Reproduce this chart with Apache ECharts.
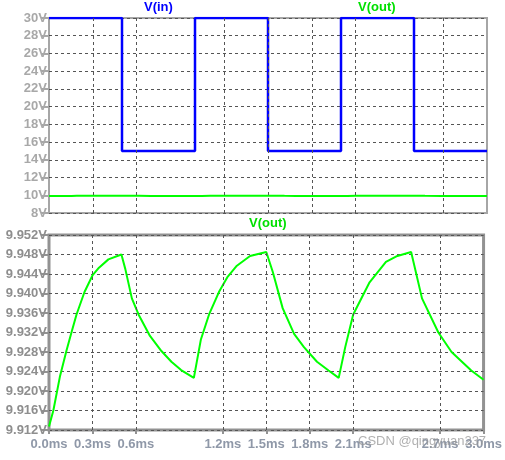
<!DOCTYPE html>
<html><head><meta charset="utf-8">
<script src="https://cdn.jsdelivr.net/npm/echarts@6/dist/echarts.min.js"></script>
<style>html,body{margin:0;padding:0;background:#fff}#c{width:505px;height:460px}</style>
</head><body><div id="c"></div>
<script>
const vinTimes = [0, 0.5, 0.5, 1.0, 1.0, 1.5, 1.5, 2.0, 2.0, 2.5, 2.5, 3.0];
const vinValues = [30, 30, 15, 15, 30, 30, 15, 15, 30, 30, 15, 15];
const voutTimes = [0, 0.03, 0.075, 0.12, 0.155, 0.19, 0.245, 0.30, 0.345, 0.41, 0.5,
  0.527, 0.572, 0.618, 0.697, 0.776, 0.845, 0.912, 1.0,
  1.048, 1.105, 1.173, 1.23, 1.297, 1.388, 1.5,
  1.545, 1.613, 1.692, 1.76, 1.85, 1.93, 2.0,
  2.045, 2.1, 2.213, 2.326, 2.405, 2.5,
  2.575, 2.688, 2.779, 2.915, 3.0];
const voutValues = [9.9127, 9.916, 9.9229, 9.9282, 9.932, 9.9357, 9.9403, 9.9437, 9.9453, 9.947, 9.948,
  9.945, 9.939, 9.9357, 9.9313, 9.9282, 9.926, 9.9243, 9.9227,
  9.9305, 9.9357, 9.9403, 9.9433, 9.9457, 9.9477, 9.9485,
  9.9444, 9.937, 9.9317, 9.929, 9.926, 9.9242, 9.9227,
  9.929, 9.9357, 9.9423, 9.9465, 9.9477, 9.9485,
  9.939, 9.932, 9.928, 9.9242, 9.9223];
const xTicks = [0, 0.3, 0.6, 1.2, 1.5, 1.8, 2.1, 2.7, 3.0];
const topYTicks = [8, 30, 2];
const botYTicks = [9.912, 9.952, 0.004];

const vin = vinTimes.map((t, i) => [t, vinValues[i]]);
const vout = voutTimes.map((t, i) => [t, voutValues[i]]);
const gridDash = {color: '#555', type: [3, 3], width: 1};
const vgrid = xTicks.filter(v => v > 0 && v < 3).map(v => ({xAxis: v}));
const mkGridLines = {silent: true, symbol: 'none', label: {show: false}, lineStyle: gridDash, data: vgrid, animation: false};

const chart = echarts.init(document.getElementById('c'), null, {renderer: 'canvas'});
chart.setOption({
  animation: false,
  grid: [
    {left: 49, right: 18, top: 18, height: 195, show: true, borderColor: '#a6a6a6', borderWidth: 2},
    {left: 49, right: 18, top: 235, height: 195, show: true, borderColor: '#929292', borderWidth: 3}
  ],
  xAxis: [
    {gridIndex: 0, type: 'value', min: 0, max: 3, interval: 0.3,
     axisLine: {show: false}, axisTick: {show: false}, axisLabel: {show: false}, splitLine: {show: false}},
    {gridIndex: 1, type: 'value', min: 0, max: 3, interval: 0.3,
     axisLine: {show: false},
     axisTick: {show: true, length: 4, customValues: xTicks, lineStyle: {color: '#929292', width: 2}},
     axisLabel: {customValues: xTicks, margin: 8, color: '#8f98a8', fontFamily: 'Arial', fontWeight: 'bold', fontSize: 13,
       formatter: v => v.toFixed(1) + 'ms'},
     splitLine: {show: false}}
  ],
  yAxis: [
    {gridIndex: 0, type: 'value', min: topYTicks[0], max: topYTicks[1], interval: topYTicks[2],
     axisLine: {show: false},
     axisTick: {show: true, length: 8, lineStyle: {color: '#a6a6a6', width: 2}},
     axisLabel: {margin: 2, color: '#a8a8a8', fontFamily: 'Arial', fontWeight: 'bold', fontSize: 13, formatter: v => v + 'V'},
     splitLine: {show: true, lineStyle: gridDash}},
    {gridIndex: 1, type: 'value', min: botYTicks[0], max: botYTicks[1], interval: botYTicks[2],
     axisLine: {show: false},
     axisTick: {show: true, length: 8, lineStyle: {color: '#929292', width: 2}},
     axisLabel: {margin: 2, color: '#8e8e8e', fontFamily: 'Arial', fontWeight: 'bold', fontSize: 13, formatter: v => v.toFixed(3) + 'V'},
     splitLine: {show: true, lineStyle: gridDash}}
  ],
  series: [
    {type: 'line', xAxisIndex: 0, yAxisIndex: 0, data: vout, showSymbol: false, symbol: 'none', z: 3,
     lineStyle: {color: '#00ff00', width: 2}, markLine: mkGridLines},
    {type: 'line', xAxisIndex: 0, yAxisIndex: 0, data: vin, showSymbol: false, symbol: 'none', z: 4,
     lineStyle: {color: '#0000ff', width: 2.5}},
    {type: 'line', xAxisIndex: 1, yAxisIndex: 1, data: vout, showSymbol: false, symbol: 'none', z: 4,
     lineStyle: {color: '#00ff00', width: 2}, markLine: mkGridLines}
  ],
  graphic: [
    {type: 'text', left: 144, top: 1, style: {text: 'V(in)', fill: '#0000ff', font: 'bold 13px Arial'}},
    {type: 'text', left: 358, top: 1, style: {text: 'V(out)', fill: '#00e000', font: 'bold 13px Arial'}},
    {type: 'text', left: 249, top: 217, style: {text: 'V(out)', fill: '#00e000', font: 'bold 13px Arial'}},
    {type: 'text', left: 358, top: 435, z: 100, style: {text: 'CSDN @qingyuan237', fill: 'rgba(150,150,150,0.75)', font: '13px Arial'}}
  ]
});
</script></body></html>
